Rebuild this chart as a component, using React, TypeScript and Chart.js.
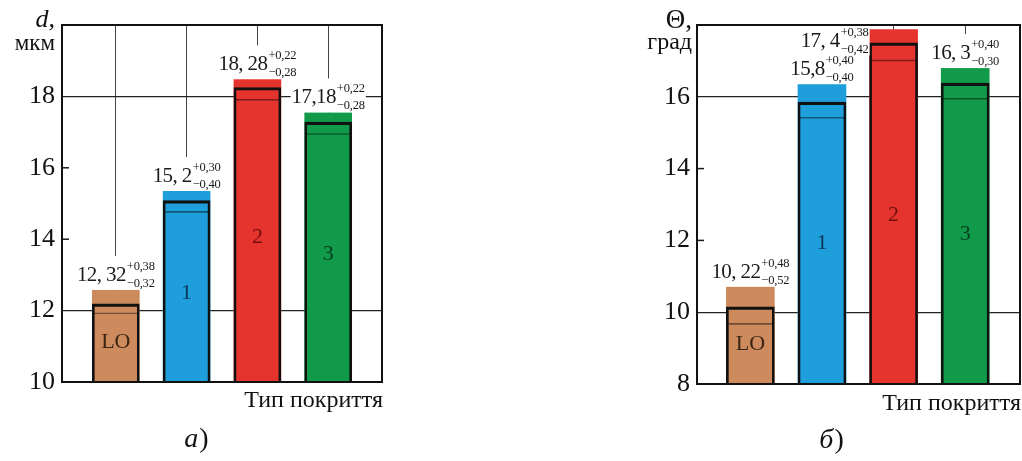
import React, { useEffect, useRef } from 'react';
import { Chart, registerables } from 'chart.js';
Chart.register(...registerables);

const SERIF = '"Liberation Serif", "DejaVu Serif", serif';

const categories = ['LO', '1', '2', '3'];
const barColors = ['#CD8B5D', '#1E9FDC', '#E5332E', '#109A4A'];
const innerTextColors = ['#3b2414', '#0b3558', '#6e0f0c', '#0a3f1f'];

// Panel а): d, мкм
const dTop = [12.58, 15.35, 18.48, 17.55];
const dMean = [12.19, 15.08, 18.25, 17.28];
const dLow = [11.94, 14.78, 17.92, 16.96];
const dMainLabels = ['12, 32', '15, 2', '18, 28', '17,18'];
const dPlusLabels = ['+0,38', '+0,30', '+0,22', '+0,22'];
const dMinusLabels = ['\u22120,32', '\u22120,40', '\u22120,28', '\u22120,28'];
const dTickLabels = [10, 12, 14, 16, 18];
const dFullGrid = [12, 18];

// Panel б): Θ, град
const thTop = [10.71, 16.35, 17.87, 16.8];
const thMean = [10.15, 15.85, 17.5, 16.38];
const thLow = [9.69, 15.43, 17.03, 15.96];
const thMainLabels = ['10, 22', '15,8', '17, 4', '16, 3'];
const thPlusLabels = ['+0,48', '+0,40', '+0,38', '+0,40'];
const thMinusLabels = ['\u22120,52', '\u22120,40', '\u22120,42', '\u22120,30'];
const thTickLabels = [8, 10, 12, 14, 16];
const thFullGrid = [10, 16];

type Spec = {
  top: number[]; mean: number[]; low: number[];
  main: string[]; plus: string[]; minus: string[];
  shifts: number[][];
  yMin: number; yMax: number; tickLabels: number[]; fullGrid: number[];
  xMin: number; xMax: number; barThickness: number;
  yAxisWidth: number; xAxisHeight: number; padRight: number;
  unit1: string; unit1Font: string; unit1Y: number;
  unit2: string; unit2Font: string; unit2Y: number; unitRight: number;
  xTitleRight: number; xTitleY: number;
  panelLetter: string; panelX: number; panelY: number;
  innerOffset: number;
};

function buildConfig(s: Spec): any {
  const pts = (arr: number[]) => arr.map((v, i) => ({ x: i, y: v }));
  const overlay = {
    id: 'overlay',
    afterDatasetsDraw(chart: any) {
      const ctx = chart.ctx;
      const area = chart.chartArea;
      const ys = chart.scales.y;
      const bars = chart.getDatasetMeta(0).data;
      ctx.save();
      // inner category labels
      ctx.textAlign = 'center';
      ctx.textBaseline = 'middle';
      ctx.font = `22px ${SERIF}`;
      bars.forEach((b: any, i: number) => {
        ctx.fillStyle = innerTextColors[i];
        ctx.fillText(categories[i], b.x, (b.y + b.base) / 2 + s.innerOffset);
      });
      // value annotations with white background
      bars.forEach((b: any, i: number) => {
        const mainFont = `21px ${SERIF}`;
        const subFont = `12.5px ${SERIF}`;
        ctx.letterSpacing = '-0.6px';
        ctx.font = mainFont;
        const mw = ctx.measureText(s.main[i]).width;
        ctx.font = subFont;
        ctx.letterSpacing = '-0.2px';
        const sw = Math.max(ctx.measureText(s.plus[i]).width, ctx.measureText(s.minus[i]).width);
        const total = mw + sw + 1;
        const cx = b.x + s.shifts[i][0];
        const by = b.y - 9 + s.shifts[i][1];
        const x0 = cx - total / 2;
        ctx.fillStyle = '#ffffff';
        ctx.fillRect(x0 - 1, by - 25, total + 2, 34);
        ctx.fillStyle = '#1a1a1a';
        ctx.textAlign = 'left';
        ctx.textBaseline = 'alphabetic';
        ctx.letterSpacing = '-0.6px';
        ctx.font = mainFont;
        ctx.fillText(s.main[i], x0, by);
        ctx.letterSpacing = '-0.2px';
        ctx.font = subFont;
        ctx.fillText(s.plus[i], x0 + mw + 1, by - 11);
        ctx.fillText(s.minus[i], x0 + mw + 1, by + 6);
        ctx.letterSpacing = '0px';
      });
      // inward tick marks
      ctx.strokeStyle = '#1a1a1a';
      ctx.lineWidth = 1.5;
      s.tickLabels.forEach((v) => {
        if (s.fullGrid.includes(v) || v === s.yMin) return;
        const py = ys.getPixelForValue(v);
        ctx.beginPath();
        ctx.moveTo(area.left, py);
        ctx.lineTo(area.left + 7, py);
        ctx.stroke();
      });
      // frame
      ctx.lineWidth = 2;
      ctx.strokeStyle = '#111';
      ctx.strokeRect(area.left, area.top, area.right - area.left, area.bottom - area.top);
      // titles
      ctx.fillStyle = '#111';
      ctx.textAlign = 'right';
      ctx.textBaseline = 'alphabetic';
      ctx.font = s.unit1Font;
      ctx.fillText(s.unit1, s.unitRight, s.unit1Y);
      ctx.font = s.unit2Font;
      ctx.fillText(s.unit2, s.unitRight, s.unit2Y);
      ctx.font = `24px ${SERIF}`;
      ctx.fillText('Тип покриття', s.xTitleRight, s.xTitleY);
      ctx.textAlign = 'left';
      ctx.font = `italic 28px ${SERIF}`;
      const lw = ctx.measureText(s.panelLetter).width;
      ctx.font = `28px ${SERIF}`;
      const pw = ctx.measureText(')').width;
      const px0 = s.panelX - (lw + pw) / 2;
      ctx.font = `italic 28px ${SERIF}`;
      ctx.fillText(s.panelLetter, px0, s.panelY);
      ctx.font = `28px ${SERIF}`;
      ctx.fillText(')', px0 + lw + 1, s.panelY);
      ctx.restore();
    },
  };

  return {
    type: 'bar',
    data: {
      datasets: [
        {
          data: pts(s.top),
          backgroundColor: barColors,
          borderWidth: 0,
          base: s.yMin,
          barThickness: s.barThickness,
          grouped: false,
          order: 3,
        },
        {
          data: pts(s.mean),
          backgroundColor: 'rgba(0,0,0,0)',
          borderColor: '#111',
          borderWidth: { top: 2.5, left: 2, right: 2, bottom: 0 },
          borderSkipped: false,
          base: s.yMin,
          barThickness: s.barThickness,
          grouped: false,
          order: 2,
        },
        {
          data: pts(s.low),
          backgroundColor: 'rgba(0,0,0,0)',
          borderColor: 'rgba(0,0,0,0.45)',
          borderWidth: { top: 1, left: 0, right: 0, bottom: 0 },
          borderSkipped: false,
          base: s.yMin,
          barThickness: s.barThickness - 4,
          grouped: false,
          order: 1,
        },
      ],
    },
    options: {
      responsive: false,
      animation: false,
      events: [],
      layout: { padding: { top: 25, right: s.padRight, left: 0, bottom: 0 } },
      plugins: { legend: { display: false }, tooltip: { enabled: false } },
      scales: {
        x: {
          type: 'linear',
          min: s.xMin,
          max: s.xMax,
          offset: false,
          ticks: { display: false, stepSize: 1 },
          border: { display: false },
          grid: {
            offset: false,
            drawTicks: false,
            lineWidth: 1,
            color: (c: any) => (Number.isInteger(c.tick?.value) ? '#444' : 'rgba(0,0,0,0)'),
          },
          afterFit: (sc: any) => { sc.height = s.xAxisHeight; },
        },
        y: {
          min: s.yMin,
          max: s.yMax,
          ticks: {
            stepSize: 2,
            padding: 7,
            color: '#111',
            font: { family: SERIF, size: 26 },
            callback: (v: any) => (s.tickLabels.includes(v) ? String(v) : ''),
          },
          border: { display: false },
          grid: {
            drawTicks: false,
            lineWidth: 1.3,
            color: (c: any) => (s.fullGrid.includes(c.tick?.value) ? '#222' : 'rgba(0,0,0,0)'),
          },
          afterFit: (sc: any) => { sc.width = s.yAxisWidth; },
        },
      },
    },
    plugins: [overlay],
  };
}

const specA: Spec = {
  top: dTop, mean: dMean, low: dLow,
  main: dMainLabels, plus: dPlusLabels, minus: dMinusLabels,
  shifts: [[0, 0], [0, 0], [0, 0], [0, 0]],
  yMin: 10, yMax: 20, tickLabels: dTickLabels, fullGrid: dFullGrid,
  xMin: -0.76, xMax: 3.76, barThickness: 47,
  yAxisWidth: 62, xAxisHeight: 79, padRight: 38,
  unit1: 'd,', unit1Font: `italic 26px ${SERIF}`, unit1Y: 27,
  unit2: 'мкм', unit2Font: `23px ${SERIF}`, unit2Y: 50, unitRight: 55,
  xTitleRight: 383, xTitleY: 407,
  panelLetter: 'а', panelX: 196, panelY: 447,
  innerOffset: 7,
};

const specB: Spec = {
  top: thTop, mean: thMean, low: thLow,
  main: thMainLabels, plus: thPlusLabels, minus: thMinusLabels,
  shifts: [[0, 0], [0, 0], [-59, 26], [0, 0]],
  yMin: 8, yMax: 18, tickLabels: thTickLabels, fullGrid: thFullGrid,
  xMin: -0.745, xMax: 3.765, barThickness: 48,
  yAxisWidth: 97, xAxisHeight: 77, padRight: 2,
  unit1: 'Θ,', unit1Font: `27px ${SERIF}`, unit1Y: 28,
  unit2: 'град', unit2Font: `24px ${SERIF}`, unit2Y: 49, unitRight: 92,
  xTitleRight: 421, xTitleY: 410,
  panelLetter: 'б', panelX: 231, panelY: 448,
  innerOffset: 9,
};

function Panel({ spec, left, width }: { spec: Spec; left: number; width: number }) {
  const ref = useRef<HTMLCanvasElement>(null);
  useEffect(() => {
    const chart = new Chart(ref.current as HTMLCanvasElement, buildConfig(spec));
    return () => chart.destroy();
  }, [spec]);
  return (
    <canvas
      ref={ref}
      width={width}
      height={461}
      style={{ position: 'absolute', left, top: 0, width, height: 461, display: 'block' }}
    />
  );
}

export default function App() {
  return (
    <div style={{ position: 'absolute', left: 0, top: 0, width: 1022, height: 461, background: '#fff', overflow: 'hidden' }}>
      <Panel spec={specA} left={0} width={420} />
      <Panel spec={specB} left={600} width={422} />
    </div>
  );
}
